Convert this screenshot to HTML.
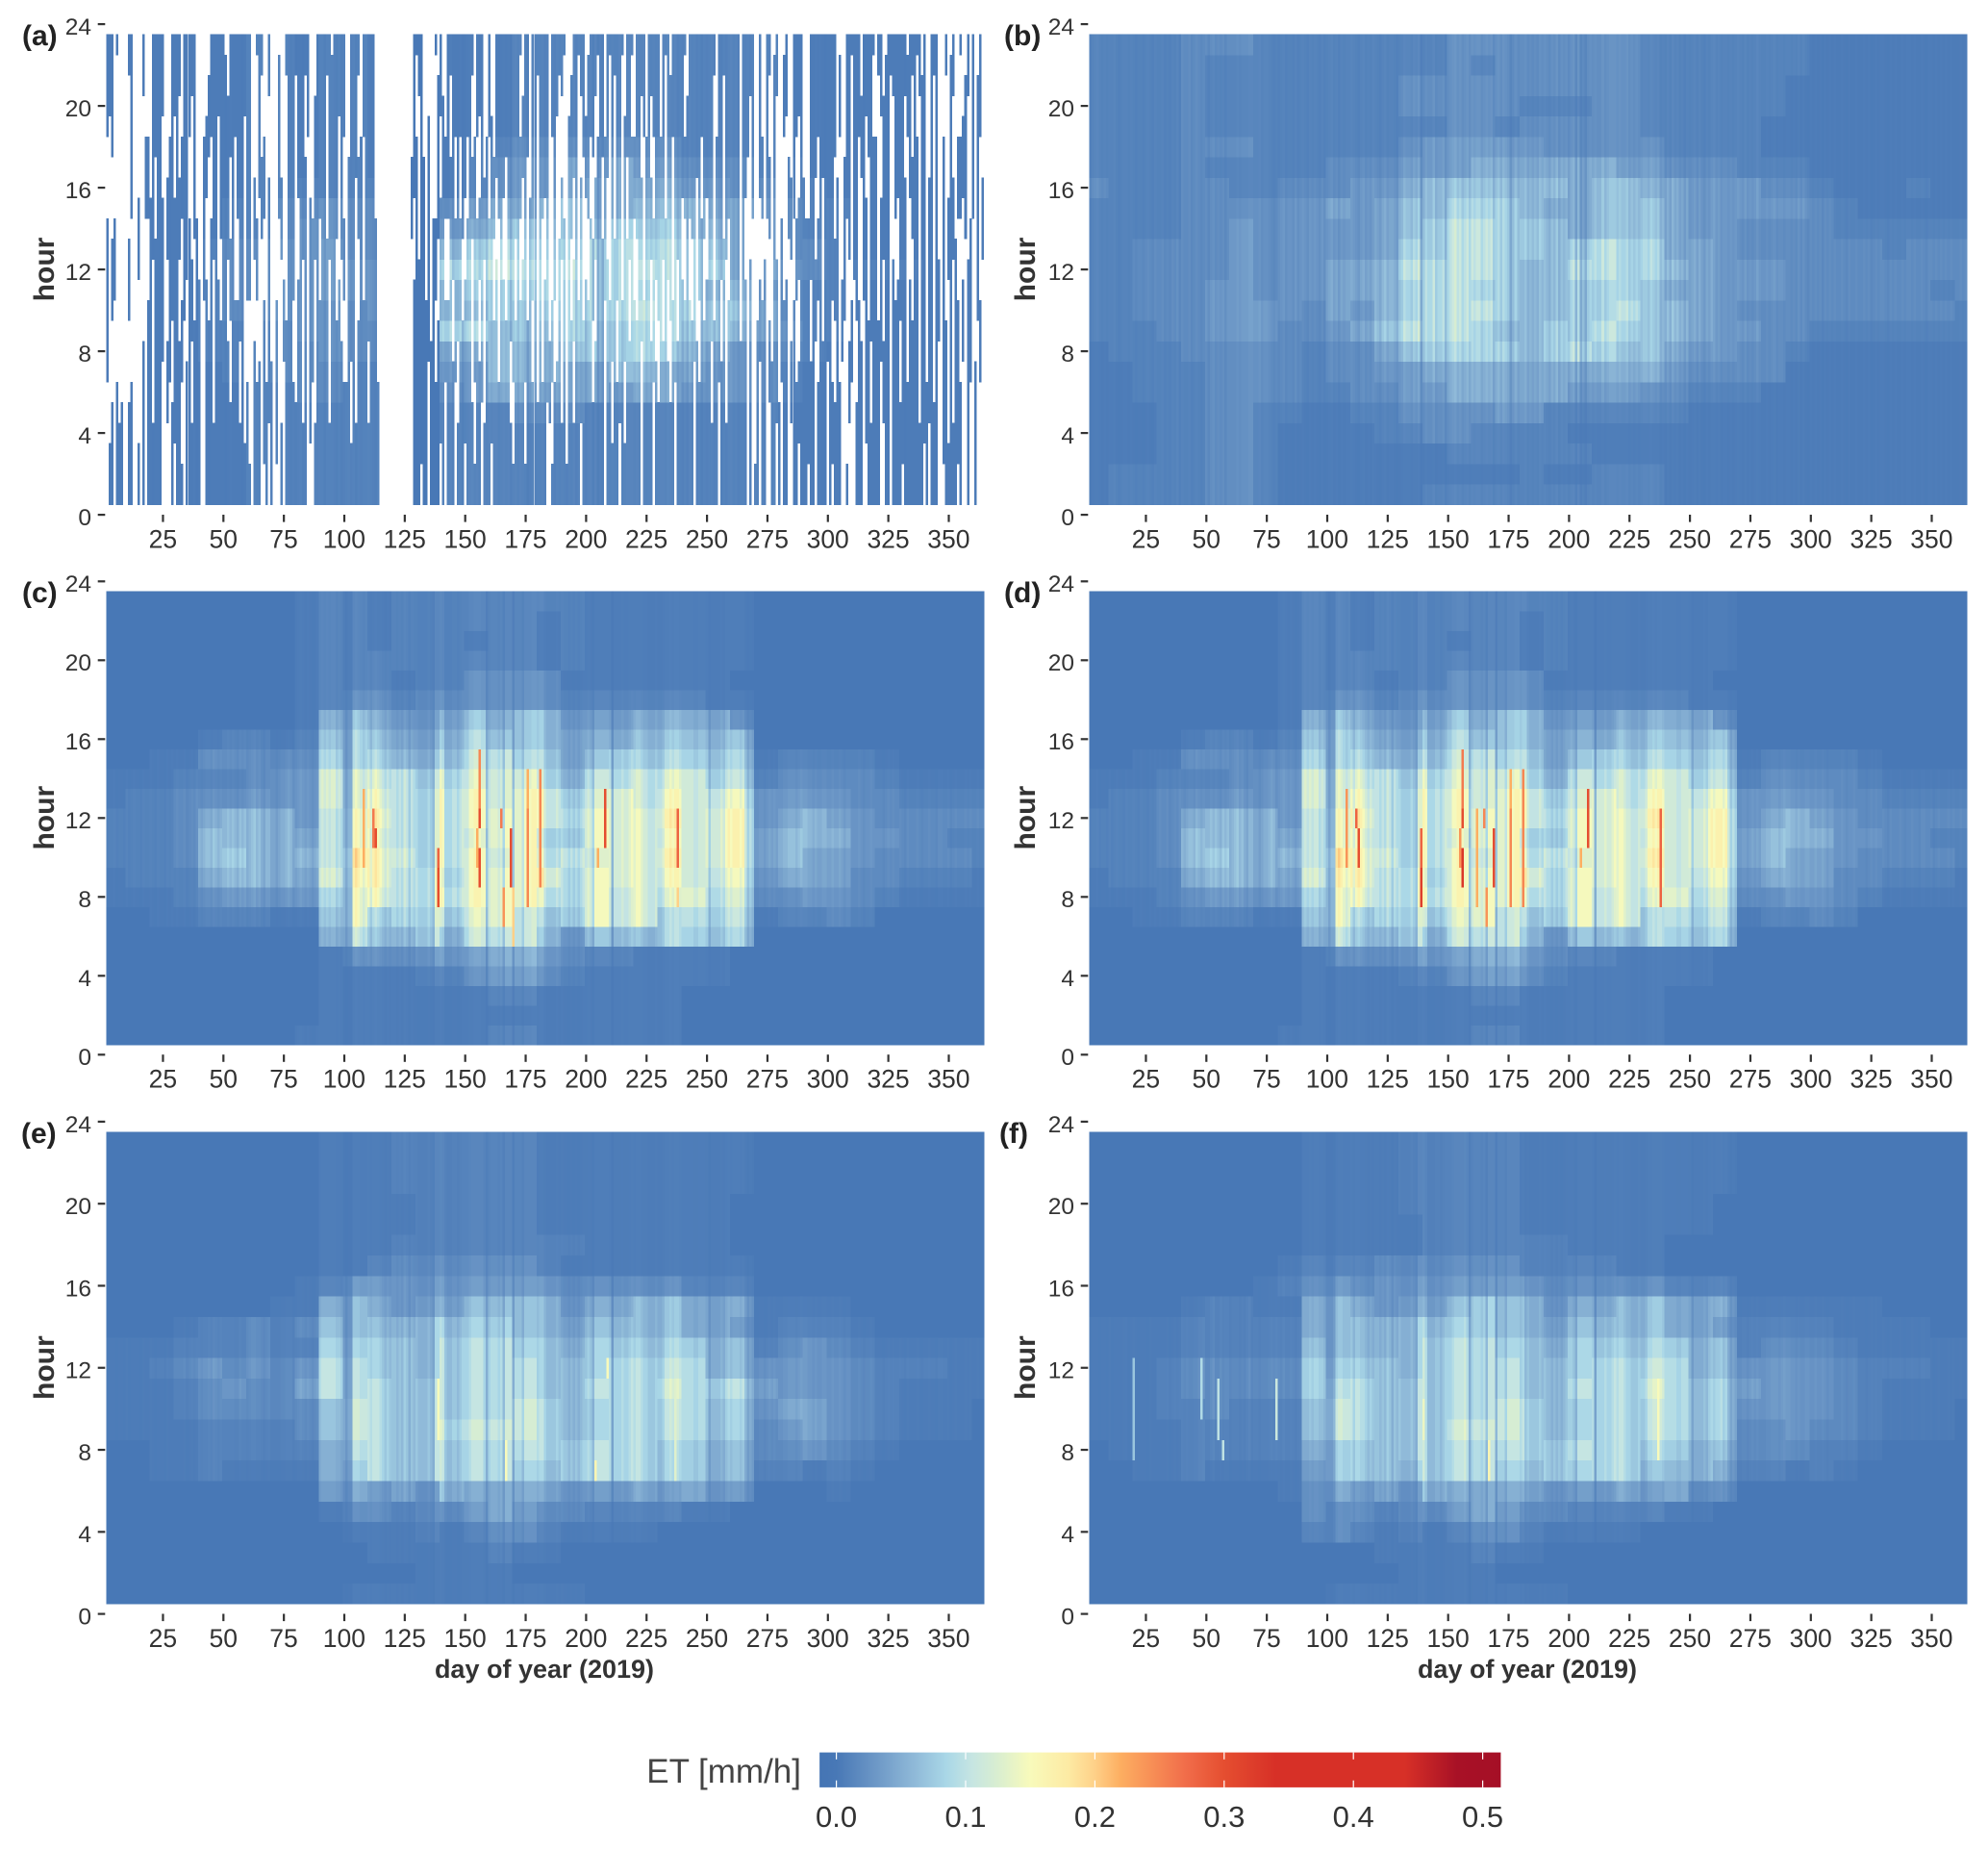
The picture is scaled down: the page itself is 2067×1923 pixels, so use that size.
<!DOCTYPE html>
<html lang="en">
<head>
<meta charset="utf-8">
<title>ET heatmaps by hour and day of year</title>
<style>
html,body{margin:0;padding:0;background:#fff;}
svg{display:block;}
text{font-family:"Liberation Sans",Arial,sans-serif;}
</style>
</head>
<body>
<svg id="figure" xmlns="http://www.w3.org/2000/svg" width="2067" height="1923" viewBox="0 0 2067 1923">
<rect x="0" y="0" width="2067" height="1923" fill="#ffffff"/>
<text x="833" y="1853" text-anchor="end" font-size="35" fill="#444">ET [mm/h]</text>
</svg>
<script>
const dayTickLabels=[25,50,75,100,125,150,175,200,225,250,275,300,325,350];
const hourTickLabels=[0,4,8,12,16,20,24];
const legendTickLabels=[0.0,0.1,0.2,0.3,0.4,0.5];
const colorValues=[-0.013,0,0.03,0.06,0.085,0.105,0.125,0.15,0.18,0.2,0.22,0.27,0.3,0.34,0.44,0.48,0.514];
const colorHexes=['#4575b4','#4878b6','#6c97c6','#8fb9d8','#a9d7e7','#c6e5e2','#d9eed0','#f8fabb','#fdeaa3','#fed088','#fdae61','#f16d4a','#e54e30','#d73027','#d73027','#a81126','#a50f26'];
/* ET level (mm/h) for each hex digit used in the grids */
const levelValues=[0,0.005,0.012,0.022,0.032,0.045,0.06,0.075,0.09,0.105,0.12,0.135,0.15,0.165,0.18,0.195];
const panelGain=[0.75,0.85,0.85,0.85,0.8,0.8];

/* Each grid: rows hour 23 to hour 1, columns are 10-day bins, hex digit indexes levelValues */
const gridA=[
"1111112212 2100111222 2222222211 1111111",
"1111112212 2100111222 2222222211 1111111",
"1111112212 2100111222 2222222211 1111111",
"1111112212 2100111222 2222222211 1111111",
"1111112212 2100111222 2222222211 1111111",
"1111112212 2100122333 3333222211 1111111",
"1111112212 2100123445 4544333221 1111111",
"1111112222 2200123445 5555443322 1111111",
"1111122334 3300345567 5566655432 2111111",
"1111122344 3300456777 6777665432 2111111",
"1111233445 3300678888 8888875433 2111111",
"1111233445 4400889999 8898885543 2222111",
"1111233445 4400677898 8888866432 2111111",
"1111233444 3400667788 8898877532 2111111",
"1111222344 3300886778 7788776542 2111111",
"1111222334 3300556667 7787654332 1111111",
"1111122333 2200446665 5665544321 1111111",
"1111112233 2200345555 5455444321 1111111",
"1111112222 2200222333 2222222211 1111111",
"1111112222 2200222222 2222222211 1111111",
"1111112222 2200222222 2222222211 1111111",
"1111112222 2200222222 2222222211 1111111",
"1111112222 2200222222 2222222211 1111111"];
const gridB=[
"2222333222 2222233333 3332222222 1111111",
"2222322222 2222232333 3332222222 1111111",
"2222322222 2223333333 3332222221 1111111",
"2222322222 2223333322 2332222221 1111111",
"2222322222 2222233233 3332222211 1111111",
"2222333222 2223444443 3333222211 1111111",
"2222322222 3334445555 5544333222 1111111",
"3222332233 3445666666 5665544433 2111211",
"2222333344 5456677765 5666544444 3211111",
"2222334344 4456788776 5666544333 3222222",
"2233334344 4457788776 7877554333 3332333",
"2233334344 5568888766 8877654443 3333333",
"2233344344 5567887766 7776554443 3333323",
"2233344443 5467888766 7786654333 3333332",
"2223344433 4578887667 7876654433 2222222",
"1222333332 3356777767 8766544332 1111111",
"1122233332 3344555555 5555433331 1111111",
"1122233332 2334455555 4443322211 1111111",
"1112233221 1223333442 2222211111 1111111",
"1112233211 1122332222 1111111111 1111111",
"1112233211 1111122222 2111111111 1111111",
"1222233211 1111111121 1222111111 1111111",
"1222233211 1111222222 2222111111 1111111"];
const gridC=[
"0000000012 2122222222 1111111000 0000000",
"0000000012 2122222212 1111111000 0000000",
"0000000012 2122212212 1111111000 0000000",
"0000000012 2222222212 1111111000 0000000",
"0000000012 2212233331 1111110000 0000000",
"0000000012 3323333332 2222211000 0000000",
"0000000015 6544565664 4455553000 0000000",
"0000122126 7655676665 5566666000 0000000",
"0011333337 7766788775 6777777122 2210000",
"1112223449 9998999986 8899988233 3321111",
"1223334449 9a99aa9aa8 9a9a9aa444 4332222",
"2223566648 ab99aaaaa9 aaab9bb456 5433333",
"2223666658 aa99a9aa88 aaaa9bb566 6443322",
"2223676668 cba9aa9a9a 9aab9bb565 5433332",
"1222566659 bb9a9aaab9 aaaa9aa455 5332221",
"1112344447 aa9aaaaa99 a9a9a99334 4321111",
"0011222116 a78989a878 a9a7888122 3200000",
"0000000005 8668688864 6667777000 0000000",
"0000000001 3334445543 2211110000 0000000",
"0000000001 1112234432 1111110000 0000000",
"0000000001 1111112211 1111000000 0000000",
"0000000001 1111111111 1111000000 0000000",
"0000000011 1111112211 1111000000 0000000"];
const gridD=gridC;
const gridE=[
"0000000001 1122222211 1111111000 0000000",
"0000000001 1122222211 1111111000 0000000",
"0000000001 1122222211 1111111000 0000000",
"0000000001 1112222211 1111110000 0000000",
"0000000001 1112222211 1111110000 0000000",
"0000000001 1122222222 1111110000 0000000",
"0000000001 1233333321 1111111000 0000000",
"0000000012 4444444443 3333222000 0000000",
"0000000115 6545566664 5566555111 1000000",
"0001223236 6667777665 6666554122 2100000",
"1112223227 7777888776 7777766234 3211111",
"1123434348 8777888877 7888866444 4322211",
"1112343358 8878888877 8889888544 4321111",
"1112333336 9878888987 7888877455 4321110",
"1111222236 9878999987 7888877345 4321110",
"0011222225 8878888888 8887766334 3210000",
"0011211115 7878888778 8887766221 2100000",
"0000000004 5454655554 4454544000 1000000",
"0000000001 3323345433 2222110000 0000000",
"0000000000 1112123321 1110000000 0000000",
"0000000000 0111112110 0000000000 0000000",
"0000000000 0001111000 0000000000 0000000",
"0000000000 1111111111 0000000000 0000000"];
const gridF=[
"0000000001 1112222211 1111111000 0000000",
"0000000001 1112222211 1111111000 0000000",
"0000000001 1112222211 1111111000 0000000",
"0000000001 1112222211 1111110000 0000000",
"0000000001 1111222211 1111110000 0000000",
"0000000001 1111222222 1111000000 0000000",
"0000000012 2233333322 2211000000 0000000",
"0000000123 4344444443 3333222000 0000000",
"0000122115 6545567664 5566555111 1110000",
"1111222225 6667777665 6666554222 2111100",
"1111222226 6667888776 7777766233 3211111",
"1112333337 7777888877 7888866444 4322211",
"1112333337 8878888877 8889877544 4321111",
"1112232226 9878888987 7888877444 4321110",
"1111222226 9878899987 7888877334 3321110",
"0111222225 7778888888 8887766333 2210000",
"0011211114 7777888778 7886665221 2100000",
"0000000013 5454655554 4454533000 0000000",
"0000000003 3323345433 2222110000 0000000",
"0000000002 3212123321 1110000000 0000000",
"0000000000 0011112110 0000000000 0000000",
"0000000000 0001111000 0000000000 0000000",
"0000000000 1111111111 0000000000 0000000"];

/* Per-day streak multiplier digit, one per day of year */
const streakA="5465665656 6754566565 4654565465 5645565746 5564565656 4675656466 6576677665 7667765454 5645546656 6466654645 6756465667 6546000000 0000000056 6789687886 7668566746 7897867868 7886787857 8687635756 6756565767 6576857675 7848353676 7668678887 8778676767 8879878565 7586756465 6757546578 6756656567 6575656865 5656756656 6565757546 5656465656 5565465565 5656456566 5465655656 6565565466 5656565655 56565";
const streakB="5467865656 6754566565 4554565465 5645465746 5564565456 4675656466 6676777887 7867765454 5645546456 5465654645 6756465667 6546756576 5467566545 6877687935 7668566746 7897867868 7886787857 8687635756 6756565767 6576857675 7848353676 7668678887 8778676767 8879878565 7586756465 6757546578 6756656567 6575656865 5656756656 6565757546 5656465656 5565465565 5656456566 5465655656 6565565466 5656565655 56565";
const streakC="5455645546 4565546556 5465546565 6556456576 5677687676 6767657675 6786754664 4345567645 6765654567 8787886762 1228987678 6898765656 6565764655 4444543889 8444554566 6889998836 7776748883 7775888998 9965555656 5545454566 7648888887 2666766787 8876655565 5688989987 7777667776 3555565787 8887853434 4554565655 5667776787 7665655665 5655654555 5565455655 5545656556 5465556545 5655466556 4565556565 56556";
const streakD=streakC;
const streakE="5455545546 4555546556 5455546555 5556456566 5667687676 6666557665 6776654564 4445566645 6765654567 8888887762 1228887778 7888765656 6565764655 4444543889 8544554566 6788888636 7776748883 7775888887 8865555656 5545454566 7648888887 2666766787 8876655565 5688989987 7777667776 3555565787 8887853434 4554565655 5667776787 7665655665 5655654555 5565455655 5545656556 5465556545 5655466556 4565556565 56556";
const streakF="5455545546 4555567456 5455546555 5556456566 5655668895 5795575664 5554546845 5455567676 5755654567 7787887762 2237887778 6887765656 6565764655 4444543889 7444554566 6788889736 7776748883 7775888887 8565555656 5545454567 7648888887 2666766787 8876655565 5688999987 7777667776 3555565787 8897853434 4554565655 5667776787 7665655665 5655654555 5565455655 5545656556 5465556545 5655466556 4565556565 56556";

/* Isolated bright cells: day, first hour, last hour, ET value */
const hotC=[[108,10,13,0.22],[112,11,12,0.26],[113,11,11,0.3],[139,9,10,0.28],[139,8,9,0.3],[156,13,15,0.25],[156,12,12,0.3],[156,9,10,0.3],[155,10,11,0.22],[165,12,12,0.26],[169,9,11,0.3],[166,7,8,0.24],[170,6,8,0.2],[176,13,14,0.22],[176,8,12,0.25],[181,9,14,0.25],[208,11,13,0.3],[205,10,10,0.22],[238,10,12,0.28],[238,8,8,0.2]];
const hotD=[[108,10,13,0.24],[112,12,12,0.28],[113,10,11,0.3],[139,9,11,0.28],[139,8,9,0.32],[156,13,15,0.26],[156,12,12,0.3],[156,9,10,0.33],[155,10,11,0.24],[162,8,12,0.22],[165,12,12,0.25],[169,9,11,0.3],[166,7,8,0.24],[176,13,14,0.22],[176,8,12,0.25],[181,8,14,0.25],[208,11,13,0.3],[205,10,10,0.22],[238,8,12,0.28]];
const hotE=[[204,7,7,0.16],[167,7,8,0.15],[139,9,11,0.15],[209,12,12,0.15],[237,7,11,0.13]];
const hotF=[[167,7,8,0.16],[237,8,11,0.15],[48,10,12,0.09],[55,9,11,0.1],[57,8,8,0.1],[79,9,11,0.11],[20,8,12,0.07],[140,9,10,0.14]];
const hotNone=[];

/* Panel (a) data coverage by hour band, one digit per day: 1 = data present */
const coverageHours1to4="0011011100 1100101011 1111000010 1110111111 0011111111 1111111111 1011100101 0001011111 1111000111 1111111111 1111111111 1111000000 0000000011 1011011110 1011101110 1111110111 0111111111 1111111111 1110011111 1111111011 1111111011 1110111111 1101111011 1111110111 1111011111 1111011111 1111110101 1011001101 0110011011 1011011110 1011100100 0111001111 1001101111 0111111110 1011100011 1110100100 10000";
const coverageHours5to8="0100000000 0100001011 0111001001 1100110111 0011101111 1101110100 0010101011 0100011110 1101011011 1110111110 1101011110 1110000000 0000000011 1111011011 1111110111 1100111011 1110111100 1111011010 1011100110 1011011111 1101111011 0111101111 1101111110 1111011111 1111010111 1011111011 1111110100 1011011110 0110110111 1111011110 1101000011 0011011011 1011101110 1101111011 0110100110 1011000100 10000";
const coverageHours9to12="0101000000 1000000011 0111100111 1011011011 0110101101 1011101101 0001001010 0100101100 1101011011 1110110101 0111001011 1110000000 0000000011 1110101101 1011011101 1101101011 1010110111 0101101110 1011011010 1010110101 0110111010 1101011011 0110110101 1010111011 0110101101 1101101011 1110110100 0101000110 1010011011 1101101011 1011011000 0110110111 0101101011 1101011011 0110110100 1011010110 01100";
const coverageHours13to16="0000100000 0000100101 1011101111 1101100110 0100111011 1101011101 1010010010 0011001110 0111010110 1101111010 0111011011 1100000000 0000000101 0110101011 1101101110 0111011110 1101100111 1110101110 1101001001 0011010100 1101110100 1011010110 1110111011 1101101110 1101101110 1101110101 1110100010 0010010100 1001100111 0111011011 1101001010 1100110111 0111100101 1100111011 0110100101 1100101011 01010";
const coverageHours17to20="0101000000 0100000010 1111000110 1011110100 0011011011 1111011101 1000101000 0010001110 1110000111 1101111011 0011101111 1100000000 0000000010 0100100010 1010111011 1101101011 1011111111 1101110110 1111001000 0011110011 1010011110 1011011101 1101110111 1101101111 0111111011 1101110111 1110111010 0100100100 0100011010 0011101111 1110100110 1101101101 0011100111 1011010011 0010100100 1001011001 01000";
const coverageHours21to23="0111010000 1100001000 1111100011 1101111100 0000111111 0011111111 1001110010 0000011111 1111100011 1111011111 0011110111 1100000000 0000000011 1100000101 0011111111 1110111001 0011111111 1110110111 1111011111 1000111110 0111111011 1111101110 1111011111 0111011111 1011111111 1110111111 1110111110 0100110010 0010011110 0011111111 1110000111 1110111110 1100111111 1101111101 0011100010 0100100101 00100";
/* Hours by which each day's coverage band edges are staggered (digit minus 2) */
const coverageStagger="2031402130 1420312043 2140302413 0241302143 2031420314 0213402130 4120314023 1402312041 3021430214 0312041320 4130214032 1400000000 0000000130 2410324013 2041302413 0214031240 3120431024 1302413021 4031240312 0431240213 0412031420 3142031204 1320412031 4203140213 0241320413 0214031240 3142031204 1302413021 4031240312 0431240213 0412031420 3142031204 1320412031 4203140213 0241320413 0214031240 31420";

const panelLetters=["a","b","c","d","e","f"];
const panelGrids=[gridA,gridB,gridC,gridD,gridE,gridF];
const panelStreaks=[streakA,streakB,streakC,streakD,streakE,streakF];
const panelHot=[hotNone,hotNone,hotC,hotD,hotE,hotF];

const svgNS="http://www.w3.org/2000/svg";
const svg=document.getElementById("figure");
const clean=s=>s.replace(/ /g,"");
const coverageBands=[coverageHours1to4,coverageHours5to8,coverageHours9to12,coverageHours13to16,coverageHours17to20,coverageHours21to23].map(clean);
const staggerDigits=clean(coverageStagger);

function hexToRgb(h){return [parseInt(h.slice(1,3),16),parseInt(h.slice(3,5),16),parseInt(h.slice(5,7),16)];}
const colorRgb=colorHexes.map(hexToRgb);
function colorFor(v){
  if(v<=colorValues[0])return colorHexes[0];
  for(let i=1;i<colorValues.length;i++){
    if(v<=colorValues[i]){
      const t=(v-colorValues[i-1])/(colorValues[i]-colorValues[i-1]);
      const a=colorRgb[i-1],b=colorRgb[i];
      return "rgb("+Math.round(a[0]+(b[0]-a[0])*t)+","+Math.round(a[1]+(b[1]-a[1])*t)+","+Math.round(a[2]+(b[2]-a[2])*t)+")";
    }
  }
  return colorHexes[colorHexes.length-1];
}
function make(tag,attrs,parent,txt){
  const el=document.createElementNS(svgNS,tag);
  for(const k in attrs)el.setAttribute(k,attrs[k]);
  if(txt!==undefined)el.textContent=txt;
  parent.appendChild(el);
  return el;
}
const panelLayout=[
 {x0:106.5,y0:535,ph:21.25,lx:23,ly:47,hx:56},
 {x0:1128.5,y0:535,ph:21.25,lx:1044,ly:47,hx:1076},
 {x0:106.5,y0:1096.2,ph:20.5,lx:23,ly:626,hx:56},
 {x0:1128.5,y0:1096.2,ph:20.5,lx:1044,ly:626,hx:1076},
 {x0:106.5,y0:1677.5,ph:21.32,lx:22,ly:1188,hx:56},
 {x0:1128.5,y0:1677.5,ph:21.32,lx:1039,ly:1188,hx:1076}
];
const dayScale=2.514;

panelLetters.forEach((letter,p)=>{
  const L=panelLayout[p];
  const xScale=d=>L.x0+d*dayScale;
  const yScale=h=>L.y0-h*L.ph;
  const grid=panelGrids[p].map(clean);
  const streak=clean(panelStreaks[p]);
  const hotMap={};
  panelHot[p].forEach(r=>{for(let h=r[1];h<=r[2];h++)hotMap[r[0]+"_"+h]=r[3];});

  const g=make("g",{},svg);
  
  
  const cells=make("g",{"shape-rendering":"crispEdges"},g);
  
  
  const frag=document.createDocumentFragment();
  for(let h=1;h<=23;h++){
    const row=grid[23-h];
    for(let d=2;d<=364;d++){
      if(p===0){
        const shifted=h+parseInt(staggerDigits.charAt(d-1)||"2",10)-2;
        const band=shifted<=4?0:shifted<=8?1:shifted<=12?2:shifted<=16?3:shifted<=20?4:5;
        if(coverageBands[band].charAt(d-1)!=="1")continue;
      }
      const base=levelValues[parseInt(row.charAt(Math.floor(d/10))||"0",16)]*panelGain[p];
      const mult=0.25+0.15*parseInt(streak.charAt(d-1)||"5",10);
      const key=d+"_"+h;
      const v=(key in hotMap)?hotMap[key]:base*mult;
      const el=document.createElementNS(svgNS,"rect");
      
      
      el.setAttribute("x",xScale(d-0.5).toFixed(2));
      el.setAttribute("y",yScale(h+0.5).toFixed(2));
      el.setAttribute("width",(dayScale+(p===0?0:0.8)).toFixed(3));
      el.setAttribute("height",(L.ph+0.6).toFixed(2));
      el.setAttribute("fill",colorFor(v));
      frag.appendChild(el);
    }
  }
  cells.appendChild(frag);

  hourTickLabels.forEach(h=>{
    const y=yScale(h);
    const t=make("rect",{x:L.x0-4.8,y:y-1,width:7.6,height:2.2,fill:"#333"},g);
    
    
    const lab=make("text",{x:L.x0-11.5,y:y+11,"text-anchor":"end","font-size":24.5,fill:"#333"},g,String(h));
    
    
  });
  dayTickLabels.forEach(d=>{
    const x=xScale(d);
    const t=make("rect",{x:x-1,y:L.y0,width:2.2,height:7.6,fill:"#333"},g);
    
    
    const lab=make("text",{x:x,y:L.y0+34.3,"text-anchor":"middle","font-size":26.5,fill:"#333"},g,String(d));
    
    
  });
  const panelLabel=make("text",{x:L.lx,y:L.ly,"font-size":30,"font-weight":"bold",fill:"#222"},g,"("+letter+")");
  
  
  const cy=yScale(12);
  const yTitle=make("text",{x:0,y:0,transform:"translate("+L.hx+","+cy+") rotate(-90)","text-anchor":"middle","font-size":30,"font-weight":"bold",fill:"#333"},g,"hour");
  
  
  if(p>=4){
    const xTitle=make("text",{x:L.x0+459.5,y:1744,"text-anchor":"middle","font-size":27,"font-weight":"bold",fill:"#333"},g,"day of year (2019)");
    
    
  }
});

/* colour bar */
const legendX=v=>869.6+v*1344;
const barLeft=legendX(colorValues[0]);
const barRight=legendX(colorValues[colorValues.length-1]);
const defs=make("defs",{},svg);
const grad=make("linearGradient",{id:"legend-gradient",x1:"0",x2:"1",y1:"0",y2:"0"},defs);
colorValues.forEach((v,i)=>{
  make("stop",{offset:(legendX(v)-barLeft)/(barRight-barLeft),"stop-color":colorHexes[i]},grad);
});
const bar=make("rect",{x:barLeft,y:1821.6,width:barRight-barLeft,height:36.3,fill:"url(#legend-gradient)"},svg);


legendTickLabels.forEach(v=>{
  const x=legendX(v);
  const t1=make("rect",{x:x-0.6,y:1821.6,width:1.2,height:7.2,fill:"#fff"},svg);
  
  
  const t2=make("rect",{x:x-0.6,y:1850.7,width:1.2,height:7.2,fill:"#fff"},svg);
  
  
  const lab=make("text",{x:x,y:1899,"text-anchor":"middle","font-size":31,fill:"#333"},svg,v.toFixed(1));
  
  
});
</script>
</body>
</html>
